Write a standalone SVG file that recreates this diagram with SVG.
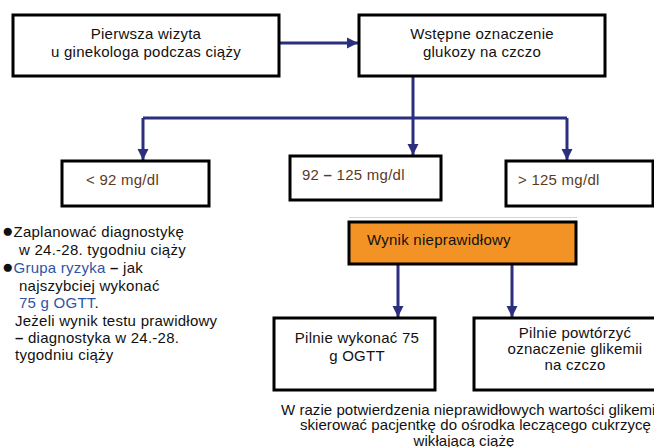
<svg xmlns="http://www.w3.org/2000/svg" width="654" height="447" viewBox="0 0 654 447">
<defs>
<marker id="ah" markerUnits="userSpaceOnUse" markerWidth="12" markerHeight="12" viewBox="0 0 12 12" refX="11" refY="6" orient="auto">
<path d="M0,0.5 L11,6 L0,11.5 Z" fill="#2b2f7e"/>
</marker>
<style>
.box{fill:#fff;stroke:#000;stroke-width:3}
.t{font-family:"Liberation Sans",Arial,sans-serif;font-size:15px;letter-spacing:0.25px;fill:#111}
.br{fill:#5b3a1f}
.bl{fill:#2f55a4}
.bu{font-size:19px;letter-spacing:0}
.n{letter-spacing:0.05px}
.c{fill:none;stroke:#2b2f7e;stroke-width:3}
</style>
</defs>
<rect width="654" height="447" fill="#fff"/>
<g id="connectors">
<path class="c" d="M279,43 H358" marker-end="url(#ah)"/>
<path class="c" d="M413,76 V118"/>
<path class="c" d="M143,118 H567"/>
<path class="c" d="M143,118 V160" marker-end="url(#ah)"/>
<path class="c" d="M413,118 V155" marker-end="url(#ah)"/>
<path class="c" d="M567,118 V160" marker-end="url(#ah)"/>
<path class="c" d="M398,264 V317" marker-end="url(#ah)"/>
<path class="c" d="M512,264 V317" marker-end="url(#ah)"/>
</g>
<g id="n1">
<rect class="box" x="13" y="15" width="266" height="61"/>
<text class="t" x="146" y="39" text-anchor="middle">Pierwsza wizyta</text>
<text class="t" x="146" y="57" text-anchor="middle">u ginekologa podczas ciąży</text>
</g>
<g id="n2">
<rect class="box" x="359" y="15" width="246" height="61"/>
<text class="t" x="482" y="39" text-anchor="middle">Wstępne oznaczenie</text>
<text class="t" x="482" y="57" text-anchor="middle">glukozy na czczo</text>
</g>
<g id="n3">
<rect class="box" x="62" y="161" width="147" height="45"/>
<text class="t br" x="86" y="185">&lt; 92 mg/dl</text>
</g>
<g id="n4">
<rect class="box" x="290" y="156" width="151" height="44"/>
<text class="t br" x="302" y="180">92 <tspan font-weight="bold">–</tspan> 125 mg/dl</text>
</g>
<g id="n5">
<rect class="box" x="506" y="161" width="147" height="45"/>
<text class="t br" x="518" y="185">&gt; 125 mg/dl</text>
</g>
<line x1="349" y1="217.5" x2="577" y2="217.5" stroke="#d4d4d4" stroke-width="1"/>
<g id="n6">
<rect x="349" y="222" width="227" height="42" fill="#f39325" stroke="#000" stroke-width="3"/>
<text class="t" x="367" y="245">Wynik nieprawidłowy</text>
</g>
<g id="n7">
<rect class="box" x="274" y="318" width="161" height="72"/>
<text class="t" x="357" y="343" text-anchor="middle">Pilnie wykonać 75</text>
<text class="t" x="357" y="361" text-anchor="middle">g OGTT</text>
</g>
<g id="n8">
<rect class="box" x="474" y="318" width="200" height="72"/>
<text class="t" x="575" y="338" text-anchor="middle">Pilnie powtórzyć</text>
<text class="t" x="575" y="354" text-anchor="middle">oznaczenie glikemii</text>
<text class="t" x="575" y="370" text-anchor="middle">na czczo</text>
</g>
<g id="notes">
<text class="t" x="2" y="237"><tspan class="bu">●</tspan>Zaplanować diagnostykę</text>
<text class="t" x="19" y="255">w 24.-28. tygodniu ciąży</text>
<text class="t" x="2" y="273"><tspan class="bu">●</tspan><tspan class="bl">Grupa ryzyka</tspan> <tspan font-weight="bold">–</tspan> jak</text>
<text class="t" x="19" y="291">najszybciej wykonać</text>
<text class="t" x="19" y="308"><tspan class="bl">75 g OGTT</tspan>.</text>
<text class="t" x="15" y="326">Jeżeli wynik testu prawidłowy</text>
<text class="t" x="15" y="343"><tspan font-weight="bold">–</tspan> diagnostyka w 24.-28.</text>
<text class="t" x="15" y="360">tygodniu ciąży</text>
</g>
<g id="bottom">
<text class="t n" x="281" y="415">W razie potwierdzenia nieprawidłowych wartości glikemii</text>
<text class="t n" x="300" y="430">skierować pacjentkę do ośrodka leczącego cukrzycę</text>
<text class="t n" x="464" y="446" text-anchor="middle">wikłającą ciążę</text>
</g>
</svg>
